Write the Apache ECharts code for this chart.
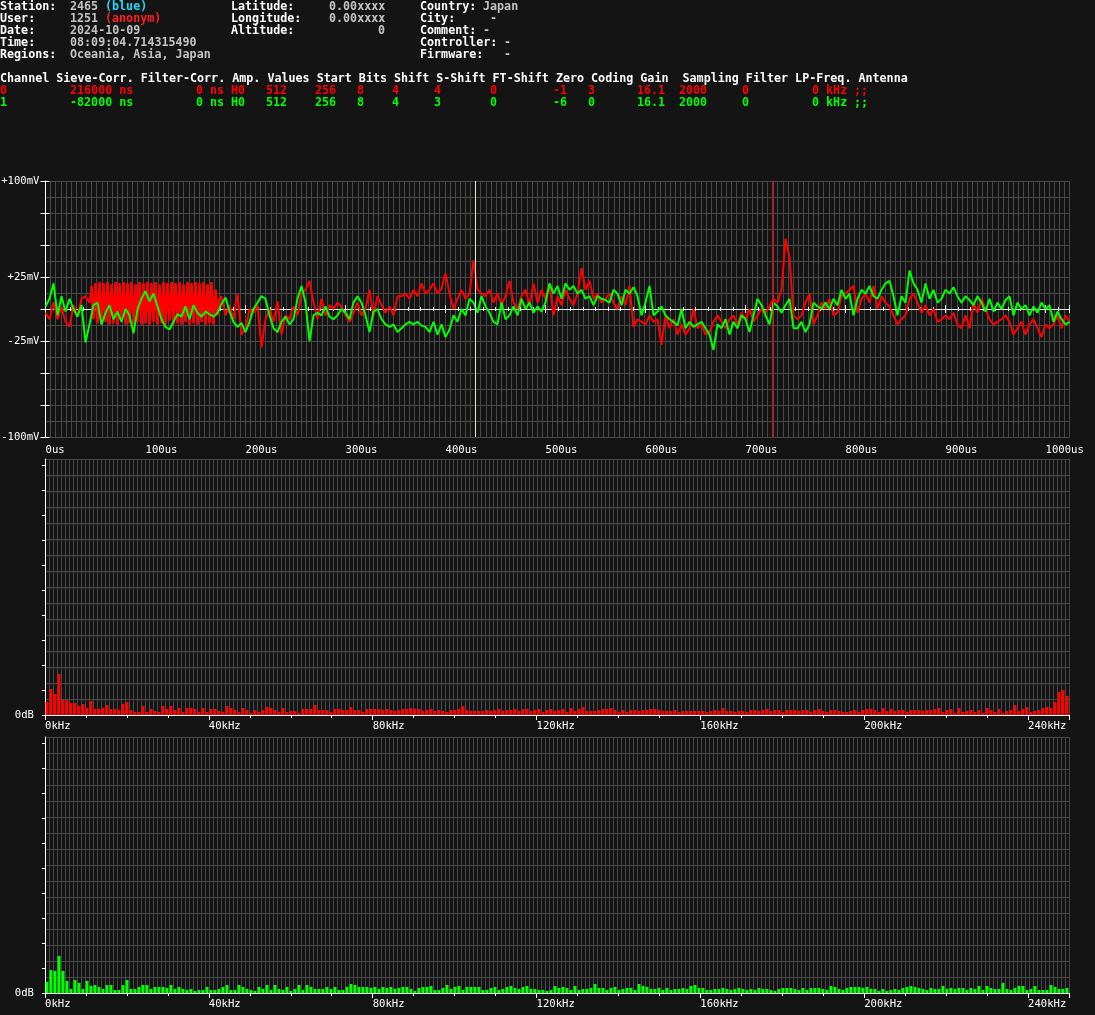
<!DOCTYPE html>
<html><head><meta charset="utf-8">
<script src="https://cdn.jsdelivr.net/npm/echarts/dist/echarts.min.js"></script>
<style>html,body{margin:0;padding:0;background:#141414;}#c{width:1095px;height:1015px;}</style>
</head><body><div id="c"></div><script>
// ---------- DATA ----------
// Time-domain samples (mV). Time base: us.
const redA = [-3,-8,5,-8,2,-10,-14,3,-5,8,10,5];               // t = 0..44, step 4
const redA_t0 = 0, redA_dt = 4;
const redComb = [18,-8,20,-11,21,-12,20,-10,21,-12,19,-11,21,-12,20,-9,21,-12,20,-11,
  21,-12,19,-10,21,-12,20,-11,21,-12,20,-10,21,-12,19,-11,21,-12,20,-9,21,-12,20,-11,21,-12,
  19,-10,21,-12,20,-11,21,-12,20,-10,21,-12,19,-11,21,-12,15,-5,8]; // t = 46..174, step 2
const redComb_t0 = 46, redComb_dt = 2;
const redB = [10,-5,3,-8,12,-20,-15,0,-3,3,-30,-8,0,-10,6,-20,-5,-8,2,-5,
  12,15,22,5,-8,8,-5,3,0,5,2,-5,-10,-3,5,-5,0,15,-5,10,3,-3,2,-5,10,10,12,8,15,10,
  20,12,15,20,12,16,28,12,0,8,15,8,12,38,15,12,10,15,5,12,3,10,22,5,0,10,15,3,20,5,15,8,20,-5,
  10,3,15,8,3,12,32,15,22,8,12,5,8,12,5,0,10,3,18,-14,-8,-10,-12,-5,-10,-8,-28,-5,-15,-8,
  -20,-12,-20,-15,0,-15,-12,-20,-18,-10,-5,-10,-15,-8,-5,-12,-3,-8,0,-10,-5,0,-3,2,8,5,15,55,40,-5,-8,-5,5,12,
  -12,-5,5,0,8,-5,-3,10,12,15,18,-3,8,12,5,18,0,10,5,2,-5,-12,-8,-5,8,12,5,-3,3,-5,
  0,-10,-8,-5,-8,-3,-12,-15,-5,-15,5,-3,8,0,-8,-12,-10,-8,-5,-10,-20,-15,-10,-20,-12,-8,-15,-22,-12,-15,-12,-5,-15,-5,-10]; // t = 176..1024, step 4
const redB_t0 = 176, redB_dt = 4;
const greenV = [2,8,20,-5,10,-2,8,0,-6,3,-26,-12,3,5,-12,-3,3,-8,-2,-10,0,-5,-19,0,8,14,6,12,2,-8,
  -14,-16,-10,-4,-6,2,-8,3,-3,-6,-2,-4,-6,-3,4,9,-2,-10,-14,-11,-18,-10,0,5,10,8,-5,-15,-18,-10,-6,-12,-8,8,
  18,5,-25,-5,-3,-5,2,-6,-8,-5,0,-3,-8,5,10,5,-5,-18,-2,0,-8,-12,-14,-12,-18,-15,-12,-10,-12,-10,
  -13,-14,-18,-10,-20,-12,-22,-16,-5,-10,0,-5,8,5,-3,10,2,-3,-10,-12,5,-8,-5,2,-5,8,0,5,-3,2,-2,5,20,12,
  18,8,20,15,18,12,15,8,10,3,10,8,7,5,15,12,3,15,12,17,10,-5,5,18,-5,-2,2,-5,-8,-10,
  -13,0,-15,-10,-14,-12,-10,-15,-20,-32,-12,-15,-8,-20,-10,-15,-5,-8,-18,-5,8,3,-5,-12,5,2,-3,3,8,-15,-15,-10,-18,-12,
  5,2,0,5,0,8,3,15,8,12,-5,8,15,12,18,10,8,15,20,22,10,-5,10,5,30,20,15,5,20,8,
  15,5,8,15,12,17,10,5,10,7,3,10,5,-2,8,-2,5,0,7,10,-5,5,0,3,-5,2,-3,5,0,3,-10,-2,-8,-12,-10]; // t = 0..1024, step 4
const green_t0 = 0, green_dt = 4;
const markerTimes = { red: 728, green: 430 };

// Spectra (bar heights, 256 bins over 0..250 kHz)
const redSpec = [13,26,21,41,15,15,12,12,9,11,7,14,6,6,7,10,6,6,5,11,13,5,3,3,9,3,6,4,3,9,
  6,9,5,7,3,7,7,6,3,7,3,6,6,4,3,9,7,5,3,7,5,2,5,3,5,8,7,5,3,7,3,4,4,2,6,6,6,10,5,5,5,3,6,6,5,5,8,5,5,3,6,6,6,6,5,
  6,5,4,5,6,6,7,6,6,4,5,6,4,5,4,3,5,5,6,9,5,4,4,4,4,5,4,5,6,4,5,5,6,4,6,6,4,5,6,3,5,6,4,5,6,3,7,4,6,8,
  4,4,4,5,6,6,7,5,3,5,3,5,5,4,5,5,6,6,5,4,4,4,5,3,4,4,4,4,4,4,3,4,5,4,7,4,4,3,4,4,3,5,5,4,
  5,6,4,5,5,3,5,5,5,4,5,5,3,5,6,4,3,5,5,4,3,3,4,5,3,5,6,6,5,3,7,4,6,4,5,5,3,5,5,5,4,5,5,6,7,3,5,6,2,7,
  3,4,5,3,5,2,7,5,3,6,2,4,5,10,4,6,8,3,4,5,7,8,7,13,23,25,19];
const greenSpec = [11,23,22,37,22,12,4,13,10,4,12,7,8,6,4,8,8,3,3,8,13,4,4,6,8,8,4,6,6,6,
  5,8,4,6,4,3,4,2,3,3,6,3,3,4,6,8,3,3,8,6,4,3,2,6,4,8,3,8,4,3,6,2,4,8,3,8,6,4,4,4,6,4,6,3,3,6,9,8,6,6,6,5,6,4,6,
  5,6,4,5,6,6,4,2,5,6,6,7,3,3,5,8,4,6,7,3,6,6,6,6,3,3,5,6,3,4,6,7,5,4,6,7,4,4,3,3,2,3,7,5,6,5,3,7,3,4,
  4,5,9,5,5,3,5,6,3,4,5,5,3,9,7,6,4,4,5,3,5,3,4,4,5,4,7,8,5,5,3,3,4,4,5,4,3,4,5,4,3,4,3,5,
  4,4,3,2,4,5,5,5,4,3,5,3,5,5,5,4,3,7,6,4,3,5,6,6,6,5,6,4,4,2,4,2,3,4,3,5,6,7,6,5,4,3,5,4,4,7,4,5,4,5,
  5,3,5,4,7,3,7,5,4,4,10,4,3,5,7,7,3,4,7,3,3,3,8,6,4,4,5];
const binCount = 256, freqMax = 250;

// Axis tick labels
const timeLabelStep = 100, timeMax = 1024;
const mvLabels = { '100': '+100mV', '25': '+25mV', '-25': '-25mV', '-100': '-100mV' };
const freqLabelStep = 40;

// Header text: [column, row, text, colorKey]
const headerItems = [
  [0,0,'Station:','w'],[10,0,'2465','g'],[15,0,'(blue)','c'],[33,0,'Latitude:','w'],[47,0,'0.00xxxx','g'],[60,0,'Country:','w'],[69,0,'Japan','g'],
  [0,1,'User:','w'],[10,1,'1251','g'],[15,1,'(anonym)','r'],[33,1,'Longitude:','w'],[47,1,'0.00xxxx','g'],[60,1,'City:','w'],[70,1,'-','g'],
  [0,2,'Date:','w'],[10,2,'2024-10-09','g'],[33,2,'Altitude:','w'],[54,2,'0','g'],[60,2,'Comment:','w'],[69,2,'-','g'],
  [0,3,'Time:','w'],[10,3,'08:09:04.714315490','g'],[60,3,'Controller:','w'],[72,3,'-','g'],
  [0,4,'Regions:','w'],[10,4,'Oceania, Asia, Japan','g'],[60,4,'Firmware:','w'],[72,4,'-','g'],
  [0,6,'Channel Sieve-Corr. Filter-Corr. Amp. Values Start Bits Shift S-Shift FT-Shift Zero Coding Gain  Sampling Filter LP-Freq. Antenna','w']
];
const channelCols = [0,10,28,33,38,45,51,56,62,70,79,84,91,97,106,116,122];
const channelRows = [
  ['0','216000 ns','0 ns','H0','512','256','8','4','4','0','-1','3','16.1','2000','0','0 kHz',';;'],
  ['1','-82000 ns','0 ns','H0','512','256','8','4','3','0','-6','0','16.1','2000','0','0 kHz',';;']
];

// ---------- BUILD ----------
const FONT = '"DejaVu Sans Mono", "Liberation Mono", monospace';
const GRIDC = '#484848', AX = '#ffffff';
const COL = { w:'#ffffff', g:'#c4c4c4', c:'#22d8ff', r:'#ff2020', R:'#ff0000', G:'#00ff00' };
const CW = 7, ROW0 = 7, ROWH = 12;

const redAData = redA.map((v,i)=>[redA_t0 + i*redA_dt, v]);
const redCombData = redComb.map((v,i)=>[redComb_t0 + i*redComb_dt, v]);
const redBData = redB.map((v,i)=>[redB_t0 + i*redB_dt, v]);
const redData = [].concat(redAData, redCombData, redBData);
const greenData = greenV.map((v,i)=>[green_t0 + i*green_dt, v]);
const bins = redSpec.map((_,i)=>i);

const graphic = [];
const txt = (col,row,text,color)=>graphic.push({type:'text', x: col*CW, y: ROW0 + row*ROWH - 6,
  style:{text, fill: color, font: 'bold 11.7px ' + FONT}, silent:true});
headerItems.forEach(([c,r,t,k])=>txt(c,r,t,COL[k]));
channelRows.forEach((row,ri)=>row.forEach((t,ci)=>txt(channelCols[ci], 7+ri, t, ri===0?COL.R:COL.G)));

const lbl = {color:AX, fontFamily:FONT, fontSize:10.6};
const off = {show:false};
const gb = {containLabel:false, outerBoundsMode:'none'};
const grids = [
  Object.assign({left:45.5, top:181, width:1024, height:256}, gb),
  Object.assign({left:45, top:459, width:1024, height:256}, gb),
  Object.assign({left:45, top:737, width:1024, height:256}, gb)
];

const xAxis = [
  {gridIndex:0, type:'value', position:'bottom', min:0, max:timeMax, interval:5.12,
   axisLine:{show:false,onZero:false}, axisTick:off, axisLabel:off,
   splitLine:{show:true, lineStyle:{color:GRIDC, width:1}}},
  {gridIndex:0, type:'value', position:'bottom', min:0, max:timeMax, interval:timeLabelStep,
   axisLine:{show:false,onZero:false}, axisTick:off, splitLine:off,
   axisLabel:Object.assign({show:true, align:'left', margin:8, showMaxLabel:false,
     formatter:v=> (v%timeLabelStep===0 && v<=1000) ? v+'us' : ''}, lbl)},
  {gridIndex:0, type:'value', position:'bottom', min:0, max:timeMax, interval:timeLabelStep,
   axisLine:{show:true, onZero:true, onZeroAxisIndex:1, lineStyle:{color:'#e8e8e8', width:1}},
   axisTick:{show:true, length:4, lineStyle:{color:'#e8e8e8'}},
   minorTick:{show:true, splitNumber:8, length:2, lineStyle:{color:'#e8e8e8'}},
   axisLabel:off, splitLine:off},
  {gridIndex:0, type:'value', position:'bottom', min:0, max:timeMax, interval:timeLabelStep,
   axisLine:{show:false, onZero:true, onZeroAxisIndex:1},
   axisTick:{show:true, inside:true, length:4, lineStyle:{color:'#e8e8e8'}},
   minorTick:{show:true, splitNumber:8, length:2, lineStyle:{color:'#e8e8e8'}},
   axisLabel:off, splitLine:off},
];
const yAxis = [
  {gridIndex:0, type:'value', position:'left', min:-100, max:100, interval:12.5,
   axisLine:{show:false,onZero:false}, axisTick:off, axisLabel:off,
   splitLine:{show:true, lineStyle:{color:GRIDC, width:1}}},
  {gridIndex:0, type:'value', position:'left', min:-100, max:100, interval:25,
   axisLine:{show:true, onZero:false, lineStyle:{color:AX, width:1}},
   axisTick:{show:true, length:5, lineStyle:{color:AX}}, splitLine:off,
   axisLabel:Object.assign({show:true, margin:6, formatter:v=> mvLabels[String(v)] || ''}, lbl)},
  {gridIndex:0, type:'value', position:'left', min:-100, max:100, interval:25,
   axisLine:{show:false,onZero:false}, axisTick:{show:true, inside:true, length:4, lineStyle:{color:AX}},
   axisLabel:off, splitLine:off},
];
const series = [
  {type:'line', xAxisIndex:1, yAxisIndex:1, data:redData, symbol:'none', animation:false, z:3,
   lineStyle:{color:COL.R, width:2}, itemStyle:{color:COL.R}},
  {type:'line', xAxisIndex:1, yAxisIndex:1, data:redCombData, symbol:'none', animation:false, z:3,
   lineStyle:{color:COL.R, width:2.5}, itemStyle:{color:COL.R}},
  {type:'line', xAxisIndex:1, yAxisIndex:1, data:greenData, symbol:'none', animation:false, z:4,
   lineStyle:{color:COL.G, width:2}, itemStyle:{color:COL.G},
   markLine:{silent:true, symbol:'none', label:off, animation:false, z:10,
     lineStyle:{width:1, type:'solid', opacity:1},
     data:[{xAxis:markerTimes.green, lineStyle:{color:'#d8f0d8', width:1, type:'solid'}},
           {xAxis:markerTimes.red, lineStyle:{color:'#ff0000', width:1, type:'solid'}}]}},
];

[[1, redSpec, COL.R],[2, greenSpec, COL.G]].forEach(([g, spec, color])=>{
  const xi = xAxis.length, yi = yAxis.length;
  xAxis.push({gridIndex:g, type:'category', position:'bottom', data:bins, boundaryGap:true,
    axisLine:{show:false,onZero:false}, axisTick:{show:false, interval:0},
    axisLabel:{show:false, interval:0},
    splitLine:{show:true, interval:0, lineStyle:{color:GRIDC, width:1}}});
  xAxis.push({gridIndex:g, type:'value', position:'bottom', min:0, max:freqMax, interval:freqLabelStep,
    axisLine:{show:true, onZero:false, lineStyle:{color:AX, width:1}},
    axisTick:{show:true, length:5, lineStyle:{color:AX}},
    minorTick:{show:true, splitNumber:4, length:3, lineStyle:{color:AX}},
    splitLine:off,
    axisLabel:Object.assign({show:true, align:'left', margin:6, showMaxLabel:false,
      formatter:v=> v%freqLabelStep===0 ? v+'kHz' : ''}, lbl)});
  yAxis.push({gridIndex:g, type:'value', position:'left', min:0, max:256, interval:16,
    axisLine:{show:false,onZero:false}, axisTick:off, axisLabel:off,
    splitLine:{show:true, lineStyle:{color:GRIDC, width:1}}});
  yAxis.push({gridIndex:g, type:'value', position:'left', min:0, max:256, interval:25,
    axisLine:{show:true, onZero:false, lineStyle:{color:AX, width:1}},
    axisTick:{show:true, length:3, lineStyle:{color:AX}}, splitLine:off,
    axisLabel:Object.assign({show:true, margin:11, showMaxLabel:false, formatter:v=> v===0 ? '0dB' : ''}, lbl)});
  series.push({type:'bar', xAxisIndex:xi, yAxisIndex:yi, data:spec, barWidth:3, animation:false,
    itemStyle:{color}});
});

const chart = echarts.init(document.getElementById('c'), null, {renderer:'canvas'});
chart.setOption({
  backgroundColor:'#141414', animation:false,
  grid:grids, xAxis, yAxis, series, graphic
});
</script></body></html>
